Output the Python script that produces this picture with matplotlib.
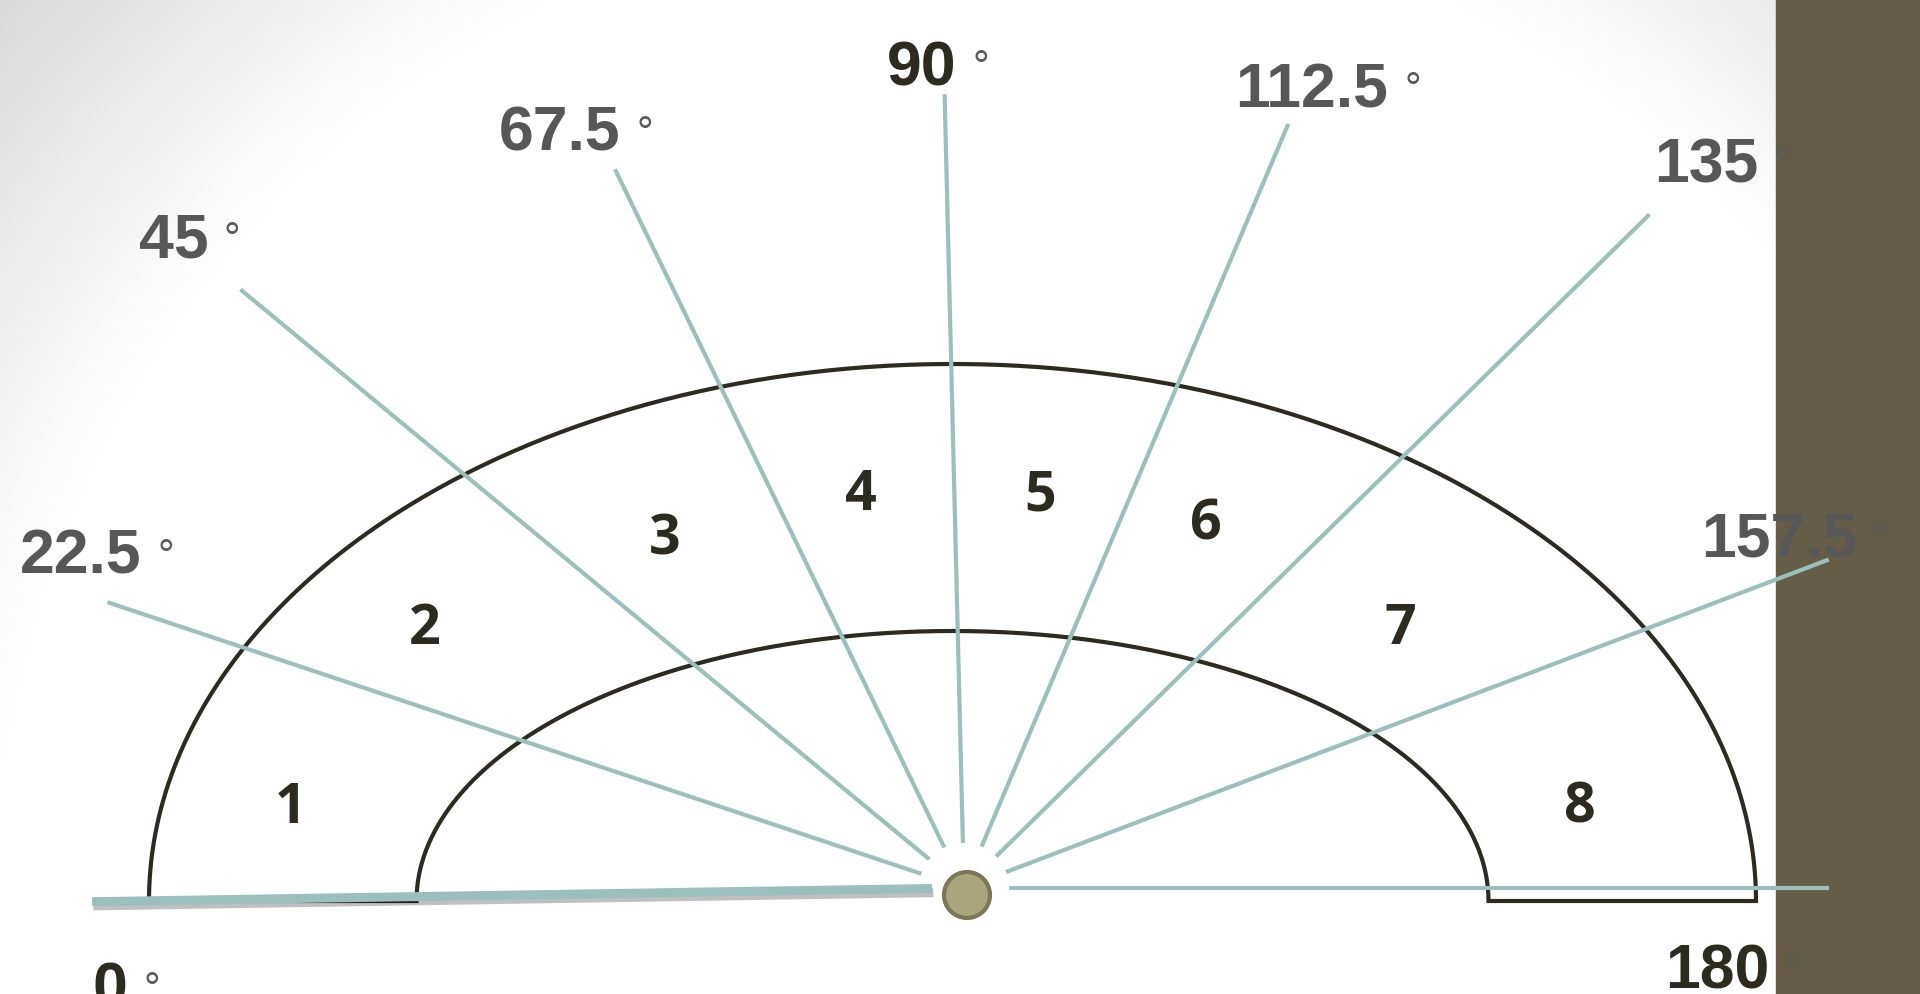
import numpy as np
import matplotlib
matplotlib.use("Agg")
import matplotlib.pyplot as plt
import matplotlib.patheffects as pe
from matplotlib.patches import Circle, Rectangle

# ray directions (deg, 0 = pointing left, 90 = up) and drawn lengths in px
ray_angles = [-0.9, 18.45, 39.6, 64.1, 88.6, 113.0, 135.5, 159.2, 180.0]
ray_lengths = [872, 903, 939, 799, 794, 830, 961, 925, 865]
ray_labels = ["0", "22.5", "45", "67.5", "90", "112.5", "135", "157.5", "180"]
label_angles = [-6.4, 20.9, 39.6, 62.0, 87.1, 113.4, 135.5, 156.5, 185.9]
label_radii = [859, 945, 1026, 861, 827, 876, 1040, 889, 757]
dark_labels = ["0", "90", "180"]

# sector numbers
sector_labels = ["1", "2", "3", "4", "5", "6", "7", "8"]
sector_angles = [7.2, 26.1, 49.8, 75.4, 100.8, 123.3, 148.8, 172.1]
sector_radii = [679, 600, 463, 411, 405, 441, 510, 622]

W, H = 1920, 994
ox, oy = 964, 888          # origin of the rays
cx, cy = 952.5, 901        # centre of the half-ellipses
outer_a, outer_b = 803.5, 537
inner_a, inner_b = 536, 270

ray_col = "#9bbfbd"
ink = "#2d2a1f"
gray = "#575757"

fig = plt.figure(figsize=(W / 100, H / 100), dpi=100)
ax = fig.add_axes([0, 0, 1, 1])
ax.set_xlim(0, W)
ax.set_ylim(H, 0)
ax.axis("off")

# background: white with grey fading in the corners
gx, gy = np.meshgrid(np.linspace(0, W, 480), np.linspace(0, H, 250))
r = np.hypot(gx - 1000, gy - 900)
t = np.clip((r - 1010) / 335, 0, 1)
shade = 1 - t * 0.15
ax.imshow(np.dstack([shade] * 3), extent=(0, W, H, 0), aspect="auto",
          interpolation="bilinear", zorder=0)

# brown side bar
ax.add_patch(Rectangle((1776, 0), W - 1776, H, color="#655d48", zorder=1))

# semi-annulus outline
tt = np.linspace(0, np.pi, 400)
xo = cx - outer_a * np.cos(tt)
yo = cy - outer_b * np.sin(tt)
xi = cx - inner_a * np.cos(tt[::-1])
yi = cy - inner_b * np.sin(tt[::-1])
xs = np.concatenate([xo, xi, [xo[0]]])
ys = np.concatenate([yo, yi, [yo[0]]])
ax.plot(xs, ys, color=ink, lw=3, solid_joinstyle="miter", zorder=2)

# rays
for ang, ln in zip(ray_angles, ray_lengths):
    d = np.radians(ang)
    dx, dy = -np.cos(d), -np.sin(d)
    if ang == ray_angles[0]:
        r0, lw = 32, 6.5
        eff = [pe.SimpleLineShadow(offset=(1, -3), shadow_color="k", alpha=0.25),
               pe.Normal()]
    else:
        r0, lw = 45, 3
        eff = None
    ax.plot([ox + r0 * dx, ox + ln * dx], [oy + r0 * dy, oy + ln * dy],
            color=ray_col, lw=lw, solid_capstyle="butt", zorder=3,
            path_effects=eff)

# centre pin
ax.add_patch(Circle((967, 895), 23, facecolor="#a9a67e", edgecolor="#7b7655",
                    lw=3, zorder=4))

# sector numbers
for lab, ang, rr in zip(sector_labels, sector_angles, sector_radii):
    d = np.radians(ang)
    x = ox - rr * np.cos(d)
    y = oy - rr * np.sin(d)
    ax.text(x, y + 20, lab, fontsize=40, fontweight="bold", family="Open Sans",
            color=ink, ha="center", va="baseline", zorder=5)

# angle labels
texts = []
for lab, ang, rr in zip(ray_labels, label_angles, label_radii):
    d = np.radians(ang)
    x = ox - rr * np.cos(d)
    y = oy - rr * np.sin(d)
    col = ink if lab in dark_labels else gray
    tx = ax.text(x, y + 23, lab, fontsize=45, fontweight="bold",
                 family="Liberation Sans", color=col, ha="center",
                 va="baseline", zorder=6)
    texts.append((tx, y + 23))

fig.canvas.draw()
inv = ax.transData.inverted()
for tx, base in texts:
    bb = tx.get_window_extent()
    x1, _ = inv.transform((bb.x1, bb.y0))
    ax.text(x1 + 24, base - 5, "\u00b0", fontsize=30, family="Liberation Sans",
            color="#5a5a5a", ha="center", va="baseline", zorder=6)

fig.savefig("out.png", dpi=100)
